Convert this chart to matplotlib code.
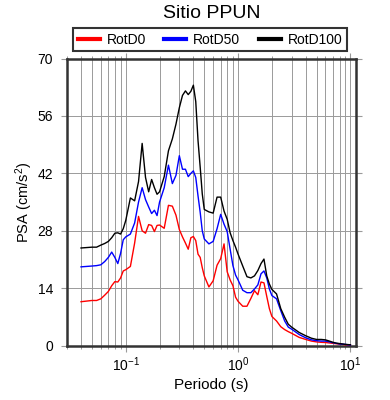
import matplotlib
matplotlib.use("Agg")
import matplotlib.pyplot as plt
from matplotlib.ticker import LogLocator, FixedLocator

plt.rcParams['font.family'] = ['Liberation Sans', 'DejaVu Sans']
plt.rcParams['mathtext.fontset'] = 'custom'
plt.rcParams['mathtext.rm'] = 'Liberation Sans'
plt.rcParams['mathtext.it'] = 'Liberation Sans:italic'

title = "Sitio PPUN"
xlabel = "Periodo (s)"
ylabel = "PSA (cm/s$^2$)"
series_names = ["RotD0", "RotD50", "RotD100"]
series_colors = ["red", "blue", "black"]
yticks = [0, 14, 28, 42, 56, 70]

periods = [0.04, 0.05, 0.055, 0.06, 0.065, 0.07, 0.075, 0.08, 0.085, 0.09, 0.095,
           0.1, 0.11, 0.12, 0.13, 0.14, 0.15, 0.16, 0.17, 0.18, 0.19, 0.2,
           0.22, 0.24, 0.26, 0.28, 0.30, 0.32, 0.34, 0.36, 0.38, 0.40,
           0.42, 0.44, 0.46, 0.48, 0.5, 0.55, 0.6, 0.65, 0.7, 0.75, 0.8,
           0.85, 0.9, 0.95, 1.0, 1.1, 1.2, 1.3, 1.4, 1.5, 1.6, 1.7, 1.8,
           1.9, 2.0, 2.2, 2.4, 2.6, 2.8, 3.0, 3.5, 4.0, 4.5, 5.0, 5.5,
           6.0, 6.5, 7.0, 7.5, 8.0, 8.5, 9.0, 9.5, 10.0]

rotd100 = [23.8, 24.0, 24.0, 24.5, 24.9, 25.4, 26.3, 27.4, 27.5, 27.2, 28.5,
           30.5, 36.0, 35.3, 40.0, 49.3, 41.0, 37.5, 40.5, 38.5, 36.9, 37.5,
           41.2, 47.5, 50.4, 54.0, 58.0, 61.0, 62.1, 61.2, 62.0, 63.5,
           59.5, 50.0, 43.5, 37.0, 33.2, 32.6, 32.3, 36.2, 36.2, 32.8, 30.8,
           27.5, 25.6, 24.0, 22.3, 19.4, 16.8, 16.5, 17.0, 18.3, 20.0, 21.1, 17.0,
           15.0, 13.7, 12.6, 9.0, 6.9, 5.2, 4.5, 3.2, 2.4, 1.8, 1.5, 1.5,
           1.4, 1.1, 0.8, 0.6, 0.5, 0.4, 0.3, 0.25, 0.2]

rotd50 = [19.2, 19.4, 19.5, 19.7, 20.5, 21.5, 22.8, 21.5, 20.0, 22.5, 25.8,
          26.5, 27.2, 29.9, 35.0, 38.5, 35.6, 33.8, 32.2, 33.0, 31.7, 35.0,
          38.5, 44.0, 39.5, 41.5, 46.3, 43.0, 43.0, 41.2, 42.0, 42.6,
          41.0, 36.5, 32.5, 28.0, 26.0, 24.8, 25.4, 28.5, 32.0, 29.6, 27.8,
          23.5, 19.5, 17.2, 16.0, 13.5, 12.9, 12.9, 13.8, 14.8, 17.5, 18.2, 16.5,
          13.8, 12.2, 11.4, 8.5, 6.0, 4.5, 4.0, 2.7, 1.9, 1.4, 1.2, 1.1,
          1.1, 0.9, 0.7, 0.55, 0.4, 0.35, 0.3, 0.2, 0.15]

rotd0 = [10.7, 11.0, 11.0, 11.4, 12.3, 13.2, 14.6, 15.6, 15.5, 16.5, 18.2,
         18.5, 19.3, 25.0, 31.5, 28.0, 27.4, 29.5, 29.3, 27.8, 29.3, 29.4,
         28.6, 34.2, 34.0, 31.8, 28.3, 26.5, 25.0, 23.5, 26.3, 26.6,
         25.6, 22.3, 21.5, 19.0, 17.0, 14.3, 15.8, 19.6, 21.2, 24.8, 18.0,
         16.0, 14.6, 11.8, 10.8, 9.6, 9.6, 11.5, 13.4, 12.4, 15.5, 15.3, 12.0,
         9.0, 7.1, 6.0, 4.6, 3.9, 3.4, 3.0, 2.0, 1.5, 1.1, 0.9, 0.8,
         0.75, 0.65, 0.55, 0.45, 0.35, 0.3, 0.2, 0.18, 0.15]

fig = plt.figure(figsize=(3.9, 4.0), dpi=100)
ax = fig.add_axes([67/390, 1 - 345.6/400, (355.5 - 67)/390, (345.6 - 58.5)/400])

for vals, name, col in zip([rotd0, rotd50, rotd100], series_names, series_colors):
    ax.plot(periods, vals, color=col, lw=1.0, label=name, zorder=3)

ax.set_xscale('log')
ax.set_xlim(0.03, 11.1)
ax.set_ylim(0, 70)
ax.yaxis.set_major_locator(FixedLocator(yticks))
ax.xaxis.set_major_locator(LogLocator(base=10, numticks=10))
ax.xaxis.set_minor_locator(LogLocator(base=10, subs=range(2, 10), numticks=20))

ax.grid(True, which='major', axis='both', color='#9a9a9a', lw=0.7, zorder=1)
ax.grid(True, which='minor', axis='x', color='#9a9a9a', lw=0.7, zorder=1)

for s in ax.spines.values():
    s.set_linewidth(1.8)
    s.set_color('#333333')

ax.tick_params(which='major', direction='out', length=4, width=0.8, color='#9a9a9a',
               top=True, right=True, labelsize=10, pad=3)
ax.tick_params(axis='y', which='major', pad=6)
ax.tick_params(which='minor', direction='out', length=2.5, width=0.7, color='#9a9a9a',
               top=True, right=False)
ax.tick_params(axis='y', which='minor', left=False, right=False)

ax.set_xlabel(xlabel, fontsize=11, labelpad=3)
ax.set_ylabel(ylabel, fontsize=10.5, labelpad=2)

fig.text(211.5/390, 1 - 14/400, title, ha='center', va='center', fontsize=14)

handles, labels = ax.get_legend_handles_labels()
leg = fig.legend(handles, labels, loc='center', bbox_to_anchor=(210/390, 1 - 39.5/400),
                 ncol=3, fontsize=10, frameon=True, fancybox=False, edgecolor='black',
                 handlelength=1.6, columnspacing=1.3, borderpad=0.35, handletextpad=0.5)
leg.get_frame().set_linewidth(1.5)
for line in leg.get_lines():
    line.set_linewidth(3)

fig.savefig("out.png", dpi=100)
